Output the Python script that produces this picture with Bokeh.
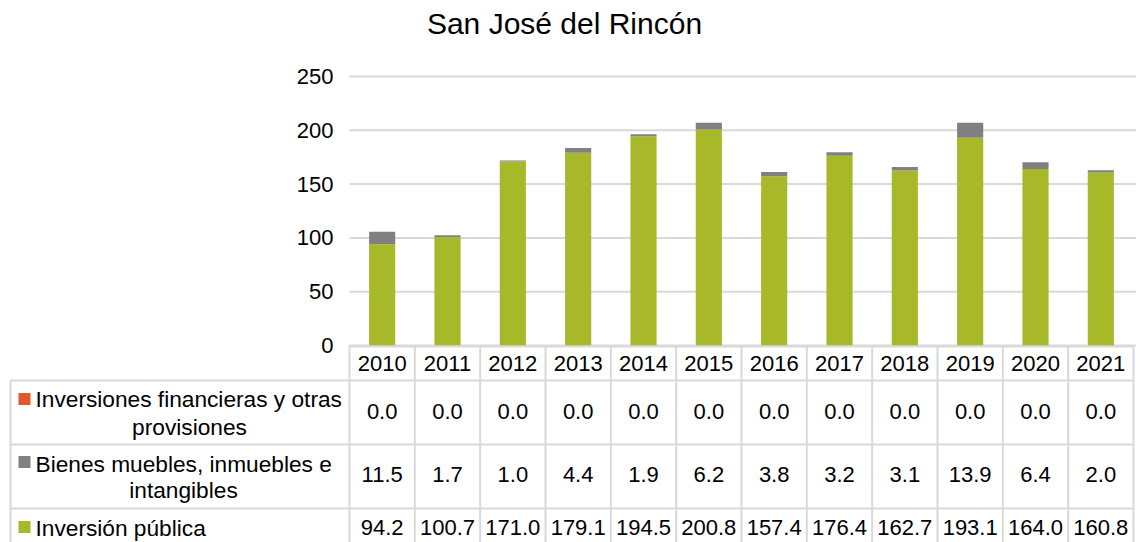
from bokeh.plotting import figure
from bokeh.models import Range1d, ColumnDataSource
from bokeh.core.properties import value
from bokeh.embed import file_html
from bokeh.resources import INLINE

# ---------------- data ----------------
chart_title = "San José del Rincón"
years = ["2010", "2011", "2012", "2013", "2014", "2015",
         "2016", "2017", "2018", "2019", "2020", "2021"]
inv_financieras = [0.0, 0.0, 0.0, 0.0, 0.0, 0.0, 0.0, 0.0, 0.0, 0.0, 0.0, 0.0]
bienes = [11.5, 1.7, 1.0, 4.4, 1.9, 6.2, 3.8, 3.2, 3.1, 13.9, 6.4, 2.0]
inv_publica = [94.2, 100.7, 171.0, 179.1, 194.5, 200.8, 157.4, 176.4, 162.7, 193.1, 164.0, 160.8]
series_lines = [["Inversiones financieras y otras", "provisiones"],
                ["Bienes muebles, inmuebles e", "intangibles"],
                ["Inversión pública"]]
y_ticks = [0, 50, 100, 150, 200, 250]

# ---------------- style / layout ----------------
FONT = "Liberation Sans"
C_FIN = "#E0592A"
C_BIE = "#808080"
C_PUB = "#A7B829"
GRID = "#D9D9D9"
W, H = 1136, 542
NCOL = len(years)
COL_L, COL_R = 349, 1133          # pixel edges of the year columns
COLW = (COL_R - COL_L) / NCOL
Y0_PX, Y250_PX = 345, 76           # pixel rows of value 0 and 250
K = (Y0_PX - Y250_PX) / 250.0      # px per value unit
FS = "22px"
FS_LAB = "22.7px"


def sx(px):
    return (px - COL_L) / COLW


xs = [i + 0.5 for i in range(NCOL)]

p = figure(width=W, height=H,
           x_range=Range1d(sx(0), sx(W)),
           y_range=Range1d(-(H - Y0_PX) / K, Y0_PX / K),
           output_backend="svg", toolbar_location=None,
           min_border_left=0, min_border_right=0, min_border_top=0, min_border_bottom=0)
p.extra_y_ranges = {"px": Range1d(H, 0)}
p.axis.visible = False
p.grid.visible = False
p.outline_line_color = None

# gridlines + y tick labels (value scale)
p.segment(x0=[0] * len(y_ticks), x1=[sx(1136)] * len(y_ticks), y0=y_ticks, y1=y_ticks,
          line_color=GRID, line_width=2)
p.text(x=[sx(333)] * len(y_ticks), y=y_ticks, text=[str(t) for t in y_ticks],
       text_align="right", text_baseline="middle", text_font=value(FONT),
       text_font_size=FS, text_color="#000000")

# stacked bars
src = ColumnDataSource(dict(x=xs, pub=inv_publica, bie=bienes, fin=inv_financieras))
p.vbar_stack(["pub", "bie", "fin"], x="x", width=0.4, source=src,
             color=[C_PUB, C_BIE, C_FIN], line_color=None)

# title
p.text(x=[sx(564)], y=[23], text=[chart_title], y_range_name="px",
       text_align="center", text_baseline="middle", text_font=value(FONT),
       text_font_size="30px", text_color="#000000")

# ---------------- data table ----------------
xl = sx(10)
hx0 = [0, xl, xl, xl]
hy = [346, 380, 444, 508]
p.segment(x0=hx0, y0=hy, x1=[NCOL] * len(hy), y1=hy, line_color=GRID, line_width=2,
          y_range_name="px")
vx = [xl] + list(range(NCOL + 1))
vy0 = [380] + [345] * (NCOL + 1)
p.segment(x0=vx, y0=vy0, x1=vx, y1=[H] * len(vx), line_color=GRID, line_width=2,
          y_range_name="px")

p.text(x=xs, y=[363] * NCOL, text=years, text_align="center", text_baseline="middle",
       text_font=value(FONT), text_font_size=FS, text_color="#000000", y_range_name="px")

rows = [inv_financieras, bienes, inv_publica]
val_mid = [411, 474, 527]
for vals, ym in zip(rows, val_mid):
    p.text(x=xs, y=[ym] * NCOL, text=[f"{v:.1f}" for v in vals], text_align="center",
           text_baseline="middle", text_font=value(FONT), text_font_size=FS,
           text_color="#000000", y_range_name="px")

p.scatter(x=[sx(24)] * 3, y=[398.5, 461.5, 526.5], size=12, marker="square",
          color=[C_FIN, C_BIE, C_PUB], line_color=None, y_range_name="px")
line1_y = [398, 463, 527]
line2_y = [426, 489]
line2_cx = [189, 183]
for i, lines in enumerate(series_lines):
    p.text(x=[sx(35)], y=[line1_y[i]], text=[lines[0]], text_align="left",
           text_baseline="middle", text_font=value(FONT), text_font_size=FS_LAB,
           text_color="#000000", y_range_name="px")
    if len(lines) > 1:
        p.text(x=[sx(line2_cx[i])], y=[line2_y[i]], text=[lines[1]], text_align="center",
               text_baseline="middle", text_font=value(FONT), text_font_size=FS_LAB,
               text_color="#000000", y_range_name="px")

open("out.html", "w").write(file_html(p, INLINE))
